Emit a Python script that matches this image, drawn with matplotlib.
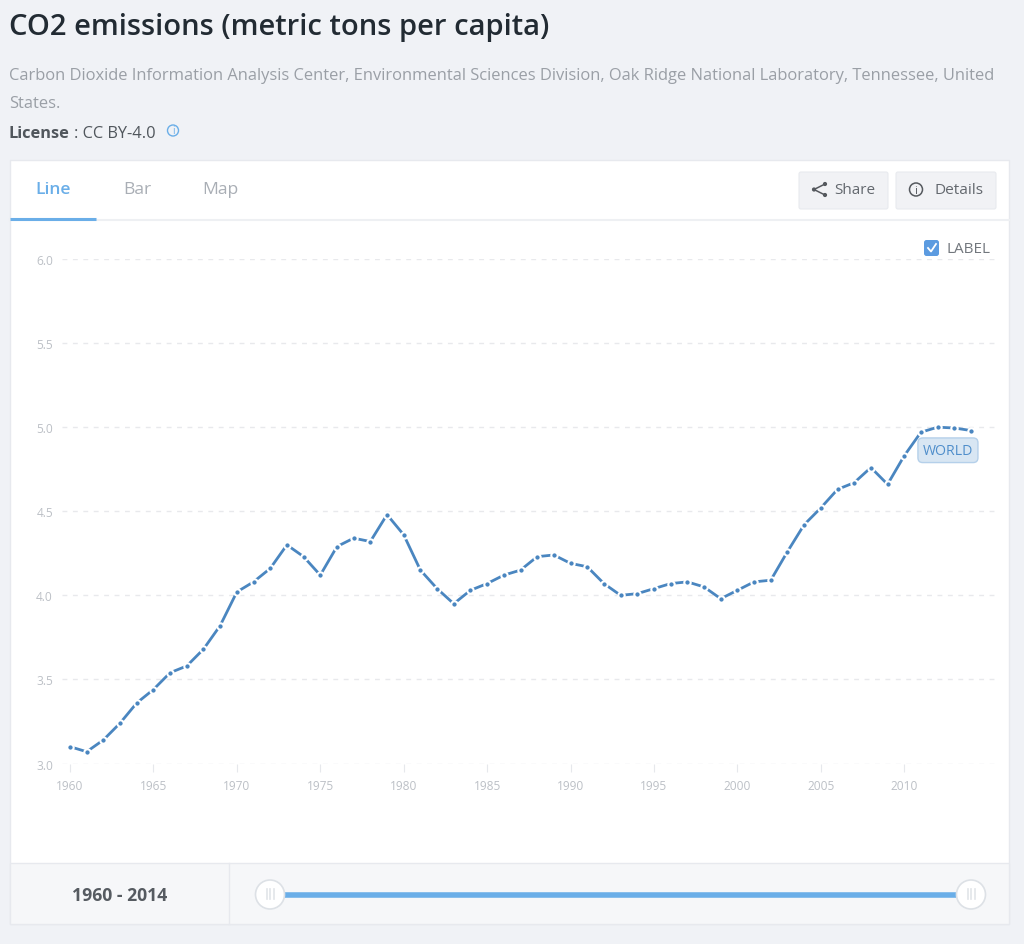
import matplotlib
matplotlib.use('Agg')
import matplotlib.pyplot as plt
from matplotlib.patches import Rectangle, FancyBboxPatch, Circle

plt.rcParams['font.family'] = ['Open Sans', 'DejaVu Sans']

years = list(range(1960, 2015))
co2 = [3.10, 3.07, 3.14, 3.24, 3.36, 3.44, 3.54, 3.58, 3.68, 3.82,
       4.02, 4.08, 4.16, 4.30, 4.23, 4.12, 4.29, 4.34, 4.32, 4.48,
       4.36, 4.15, 4.04, 3.95, 4.03, 4.07, 4.12, 4.15, 4.23, 4.24,
       4.19, 4.17, 4.07, 4.00, 4.01, 4.04, 4.07, 4.08, 4.05, 3.98,
       4.03, 4.08, 4.09, 4.26, 4.42, 4.52, 4.63, 4.67, 4.76, 4.66,
       4.83, 4.97, 5.00, 4.995, 4.98]
y_ticks = [3.0, 3.5, 4.0, 4.5, 5.0, 5.5, 6.0]
x_ticks = list(range(1960, 2011, 5))

W, H = 1024, 945
BG = '#f0f2f6'
LINE = '#4a86c0'
BLUE = '#6aaee8'

fig = plt.figure(figsize=(W/100, H/100), dpi=100, facecolor=BG)

# page furniture, drawn in pixel coordinates
ui = fig.add_axes([0, 0, 1, 1])
ui.set_xlim(0, W)
ui.set_ylim(H, 0)
ui.axis('off')

ui.text(9, 27, 'CO2 emissions (metric tons per capita)', fontsize=21, fontweight=600,
        color='#222b33', va='center')
ui.text(9, 76.5, 'Carbon Dioxide Information Analysis Center, Environmental Sciences Division, '
        'Oak Ridge National Laboratory, Tennessee, United', fontsize=11.85, color='#9a9fa6', va='center')
ui.text(9, 104, 'States.', fontsize=11.85, color='#9a9fa6', va='center')
ui.text(9, 133.5, 'License', fontsize=11.8, fontweight='bold', color='#50565c', va='center')
ui.text(74, 133.5, ': CC BY-4.0', fontsize=11.8, color='#50565c', va='center')
ui.add_patch(Circle((173, 131.5), 5.5, fc='none', ec=BLUE, lw=1))
ui.text(173, 132, 'i', fontsize=7, color=BLUE, ha='center', va='center')

# card
ui.add_patch(Rectangle((10, 161), 999, 764, fc='white', ec='#e7e9ee', lw=1))
ui.add_patch(Rectangle((10, 864), 999, 61, fc='#f6f7f9', ec='#e7e9ee', lw=1))
ui.plot([229, 229], [864, 925], color='#e7e9ee', lw=1)
ui.plot([10, 1009], [221, 221], color='#eef0f3', lw=1.5)
ui.plot([10, 96], [219.5, 219.5], color=BLUE, lw=2.2, solid_capstyle='butt')

ui.text(53.5, 189.5, 'Line', fontsize=12.6, fontweight=600, color=BLUE, ha='center', va='center')
ui.text(137, 189.5, 'Bar', fontsize=12.6, color='#a9aeb5', ha='center', va='center')
ui.text(220, 189.5, 'Map', fontsize=12.6, color='#a9aeb5', ha='center', va='center')

# buttons
for x0, x1 in [(799, 888), (896, 996)]:
    ui.add_patch(FancyBboxPatch((x0, 173), x1-x0, 37, boxstyle='round,pad=0,rounding_size=2',
                                fc='#f1f2f5', ec='#e8eaee', lw=0.8))
ui.text(834, 191, 'Share', fontsize=11, color='#63686e', va='center')
ui.text(935, 191, 'Details', fontsize=11.1, color='#63686e', va='center')
ui.plot([825, 814, 825], [185, 190.5, 196], color='#55595e', lw=1.1)
for cx, cy in [(825, 185), (814, 190.5), (825, 196)]:
    ui.add_patch(Circle((cx, cy), 2.1, fc='#55595e', ec='none'))
ui.add_patch(Circle((916, 190.5), 6.5, fc='none', ec='#55595e', lw=1.1))
ui.text(916, 191, 'i', fontsize=8, color='#55595e', ha='center', va='center')

# label checkbox
ui.add_patch(FancyBboxPatch((924, 241), 15, 16, boxstyle='round,pad=0,rounding_size=2.5',
                            fc='#5c9be0', ec='none'))
ui.plot([928, 931, 936], [249, 252.5, 245], color='white', lw=1.3)
ui.text(946, 249.5, 'LABEL', fontsize=11, color='#72777d', va='center')

# footer / range slider
ui.text(119.5, 896, '1960 - 2014', fontsize=12.7, fontweight='bold', color='#565b61', ha='center', va='center')
ui.plot([284, 957], [895.5, 895.5], color=BLUE, lw=4, solid_capstyle='butt')
for cx in [270, 971]:
    ui.add_patch(Circle((cx, 895.5), 14.5, fc='white', ec='#dde1e6', lw=1.2, zorder=3))
    for dx in [-3.5, 0, 3.5]:
        ui.plot([cx+dx, cx+dx], [890, 900], color='#e2e5e9', lw=1.2, zorder=4)

# chart axes: 62..996 px wide, y 3.0 at 764.5 and 6.0 at 260
px_x0, px_x1, px_top, px_bot = 62, 996, 260, 764.5
ax = fig.add_axes([px_x0/W, 1-px_bot/H, (px_x1-px_x0)/W, (px_bot-px_top)/H])
ax.patch.set_alpha(0)
step = (971-70)/54
ax.set_xlim(1960-(70-px_x0)/step, 1960+(px_x1-70)/step)
ax.set_ylim(3.0, 6.0)
ax.set_yticks(y_ticks, [f'{v:.1f}' for v in y_ticks])
ax.set_xticks(x_ticks, [str(v) for v in x_ticks])
ax.tick_params(axis='y', length=0, pad=6.5, labelsize=8.6, labelcolor='#bcc0c6')
ax.tick_params(axis='x', length=6, width=0.8, color='#e6e8ec', pad=5, labelsize=8.6, labelcolor='#bcc0c6')
ax.grid(axis='y', color='#e8e9ec', lw=1, linestyle=(0, (3.5, 4)))
ax.set_axisbelow(True)
for s in ax.spines.values():
    s.set_visible(False)

# white marker edge leaves the small gap either side of each dot
ax.plot(years, co2, color=LINE, lw=2.0, marker='o', ms=4.6, mfc=LINE, mec='white', mew=1.5,
        solid_capstyle='butt', clip_on=False)

ax.annotate('WORLD', xy=(years[-1], co2[-1]), xytext=(-16.6, -14.2), textcoords='offset points',
            ha='center', va='center', fontsize=10.2, color='#4f8ecb',
            bbox=dict(boxstyle='round,pad=0.34', fc='#d8e6f3', ec='#b5d0ea', lw=1))

fig.savefig('out.png', dpi=100, facecolor=BG)
